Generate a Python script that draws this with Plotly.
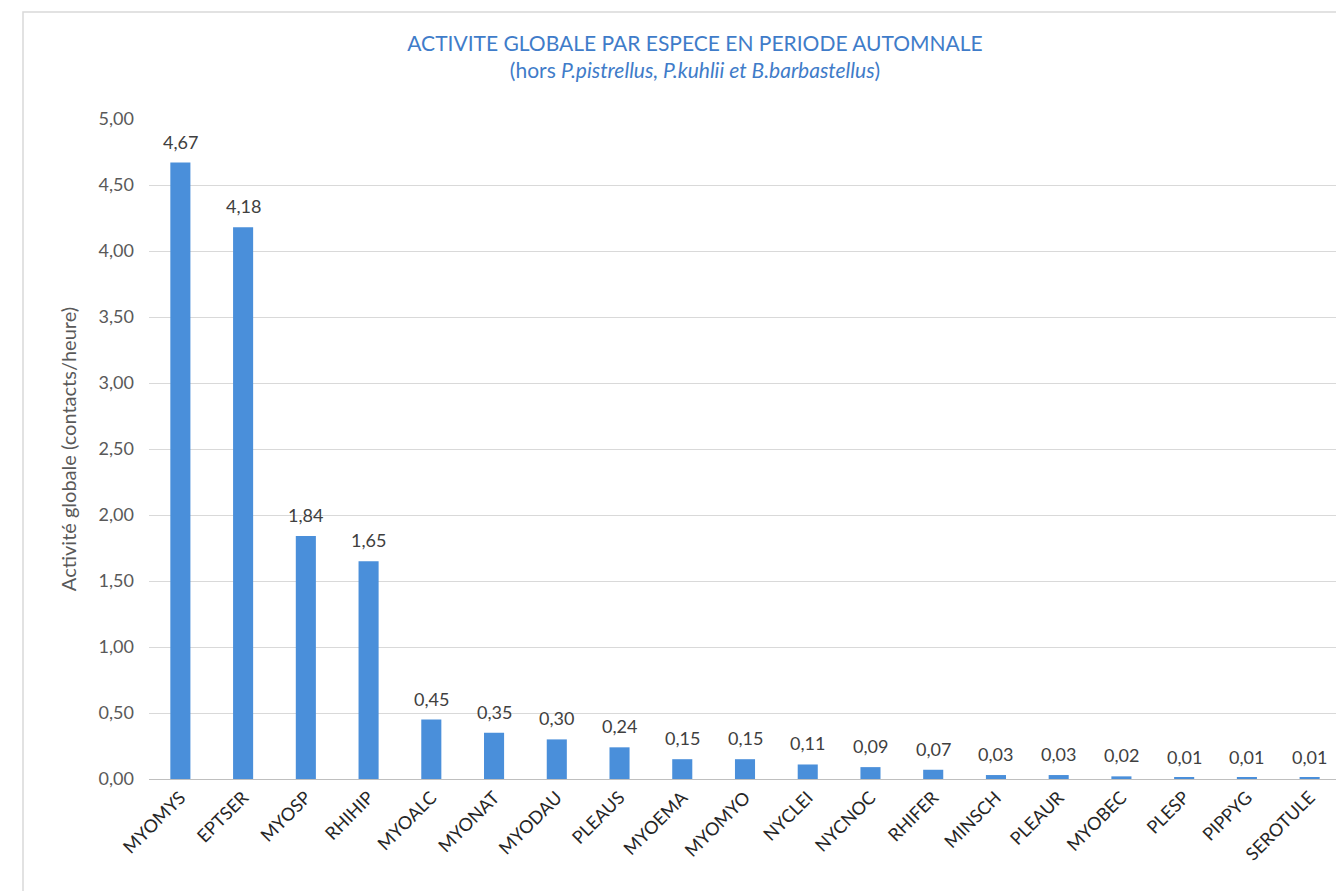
import plotly.graph_objects as go

categories = ["MYOMYS", "EPTSER", "MYOSP", "RHIHIP", "MYOALC", "MYONAT", "MYODAU",
              "PLEAUS", "MYOEMA", "MYOMYO", "NYCLEI", "NYCNOC", "RHIFER", "MINSCH",
              "PLEAUR", "MYOBEC", "PLESP", "PIPPYG", "SEROTULE"]
values = [4.67, 4.18, 1.84, 1.65, 0.45, 0.35, 0.30, 0.24, 0.15, 0.15, 0.11, 0.09,
          0.07, 0.03, 0.03, 0.02, 0.01, 0.01, 0.01]
y_ticks = [0, 0.5, 1, 1.5, 2, 2.5, 3, 3.5, 4, 4.5, 5]

FONT = "Lato"

fig = go.Figure(go.Bar(
    x=categories, y=values,
    marker=dict(color="#4A8FDA", line=dict(width=0)),
))

for c, v in zip(categories, values):
    fig.add_annotation(x=c, y=v, text=f"{v:.2f}".replace(".", ","), showarrow=False,
                       yanchor="bottom", yshift=8,
                       font=dict(family=FONT, size=18, color="#404040"))

W, H = 1344, 891
L, R, T, B = 141, 11, 111, 120
pw, ph = W - L - R, H - T - B

fig.update_layout(
    width=W, height=H, separators=", ",
    paper_bgcolor="white", plot_bgcolor="white",
    margin=dict(l=L, r=R, t=T, b=B),
    bargap=0.68, showlegend=False,
    font=dict(family=FONT),
    title=dict(
        text="ACTIVITE GLOBALE PAR ESPECE EN PERIODE AUTOMNALE<br>(hors <i>P.pistrellus, P.kuhlii et B.barbastellus</i>)",
        x=687 / W, xref="container", xanchor="center",
        y=1 - 43 / H, yref="container", yanchor="top",
        font=dict(family=FONT, size=21, color="#3F7CC9"),
    ),
    xaxis=dict(tickangle=-45, tickfont=dict(family=FONT, size=18, color="#262626"),
               showline=True, linecolor="#BFBFBF", ticks="", showgrid=False),
    yaxis=dict(range=[0, 5], tickvals=y_ticks, tickformat=".2f",
               tickfont=dict(family=FONT, size=18, color="#595959"),
               ticklabelstandoff=14,
               gridcolor="#D9D9D9", zeroline=False, showline=False, ticks="",
               title=dict(text="Activité globale (contacts/heure)",
                          font=dict(family=FONT, size=20, color="#595959"), standoff=16)),
    shapes=[dict(type="rect", xref="paper", yref="paper",
                 x0=(15 - L) / pw, x1=1.2, y0=-0.3, y1=(H - B - 4) / ph,
                 line=dict(color="#D9D9D9", width=1.5), layer="below")],
)

fig.write_html("out.html")
